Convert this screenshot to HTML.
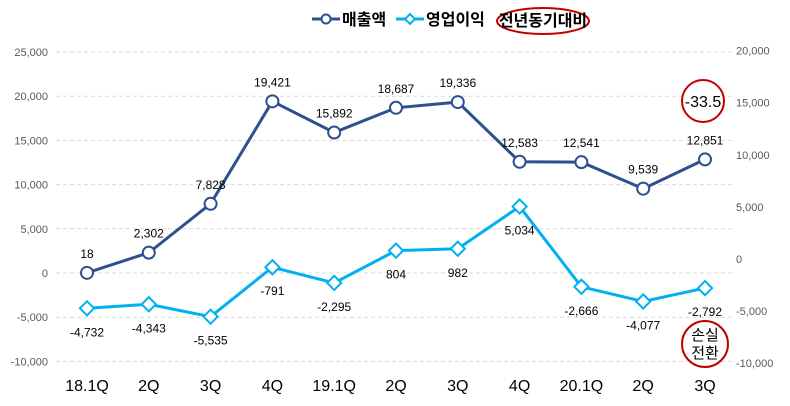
<!DOCTYPE html>
<html><head><meta charset="utf-8"><style>
body{margin:0;background:#fff;}
svg{display:block;font-family:"Liberation Sans","Noto Sans CJK KR",sans-serif;}
</style></head><body>
<svg id="c" width="790" height="406" viewBox="0 0 790 406">
<g>
<line x1="312" y1="19" x2="340" y2="19" stroke="#2f4f8f" stroke-width="3"/>
<circle cx="326" cy="19" r="4.5" fill="#fff" stroke="#2f4f8f" stroke-width="2"/>
<text x="342" y="25" font-size="16" font-weight="bold" fill="#000">매출액</text>
<line x1="396" y1="19" x2="424" y2="19" stroke="#00b0f0" stroke-width="3"/>
<rect x="406.5" y="15.5" width="7" height="7" fill="#fff" stroke="#00b0f0" stroke-width="2" transform="rotate(45 410 19)"/>
<text x="426" y="25" font-size="16" font-weight="bold" fill="#000">영업이익</text>
<ellipse cx="543" cy="21" rx="46" ry="13" fill="none" stroke="#c00000" stroke-width="2"/>
<text x="543" y="26" font-size="16" font-weight="bold" text-anchor="middle" fill="#000">전년동기대비</text>
</g>
<g id="grid"></g><g id="axes"></g><g id="series"></g>
<g>
<circle cx="703" cy="101" r="21" fill="#fff" stroke="#c00000" stroke-width="2"/>
<text x="703" y="107" font-size="16" text-anchor="middle" fill="#000">-33.5</text>
</g>
<g>
<circle cx="705" cy="344" r="23" fill="#fff" stroke="#c00000" stroke-width="2"/>
<text x="705" y="340" font-size="15" text-anchor="middle" fill="#000">손실</text>
<text x="705" y="358" font-size="15" text-anchor="middle" fill="#000">전환</text>
</g>
</svg>
<script>
const categories=["18.1Q","2Q","3Q","4Q","19.1Q","2Q","3Q","4Q","20.1Q","2Q","3Q"];
const revenue=[18,2302,7828,19421,15892,18687,19336,12583,12541,9539,12851];
const revenueLabels=["18","2,302","7,828","19,421","15,892","18,687","19,336","12,583","12,541","9,539","12,851"];
const profit=[-4732,-4343,-5535,-791,-2295,804,982,5034,-2666,-4077,-2792];
const profitLabels=["-4,732","-4,343","-5,535","-791","-2,295","804","982","5,034","-2,666","-4,077","-2,792"];
const leftTicks=[25000,20000,15000,10000,5000,0,-5000,-10000];
const rightTicks=[20000,15000,10000,5000,0,-5000,-10000];
const NS="http://www.w3.org/2000/svg";
const svg=document.getElementById('c');
const yL=v=>273-v*44.2/5000;
const yR=v=>259-v*52.1/5000;
const x=i=>87+i*61.8;
const fmt=v=>v.toLocaleString('en-US');
function mk(tag,attrs,parent,txt){const e=document.createElementNS(NS,tag);for(const k in attrs)e.setAttribute(k,attrs[k]);if(txt!==undefined)e.textContent=txt;parent.appendChild(e);return e;}
const grid=document.getElementById('grid'),axes=document.getElementById('axes'),ser=document.getElementById('series');
leftTicks.forEach(t=>{
 const l=mk('line',{x1:56,x2:732,y1:yL(t),y2:yL(t),stroke:'#d9d9d9','stroke-dasharray':'4,3'},grid);
 
 
 const tx=mk('text',{x:48,y:yL(t)+4,'font-size':11,'text-anchor':'end',fill:'#595959'},axes,fmt(t));
 
 
});
rightTicks.forEach(t=>{
 const tx=mk('text',{x:736,y:yR(t)+4,'font-size':11,fill:'#595959'},axes,fmt(t));
 
 
});
categories.forEach((c,i)=>{
 const tx=mk('text',{x:x(i),y:391,'font-size':16,'text-anchor':'middle',fill:'#000'},axes,c);
 
 
});
const p1=mk('polyline',{points:revenue.map((v,i)=>x(i)+','+yL(v)).join(' '),fill:'none',stroke:'#2f4f8f','stroke-width':3},ser);


const p2=mk('polyline',{points:profit.map((v,i)=>x(i)+','+yR(v)).join(' '),fill:'none',stroke:'#00b0f0','stroke-width':3},ser);


revenue.forEach((v,i)=>{
 const c=mk('circle',{cx:x(i),cy:yL(v),r:6,fill:'#fff',stroke:'#2f4f8f','stroke-width':2},ser);
 
 
 const t=mk('text',{x:x(i),y:yL(v)-15,'font-size':12,'text-anchor':'middle',fill:'#000'},ser,revenueLabels[i]);
 
 
});
profit.forEach((v,i)=>{
 const cx=x(i),cy=yR(v);
 const r=mk('rect',{x:cx-5,y:cy-5,width:10,height:10,fill:'#fff',stroke:'#00b0f0','stroke-width':2,transform:`rotate(45 ${cx} ${cy})`},ser);
 
 
 const t=mk('text',{x:cx,y:cy+28,'font-size':12,'text-anchor':'middle',fill:'#000'},ser,profitLabels[i]);
 
 
});
</script>
</body></html>
